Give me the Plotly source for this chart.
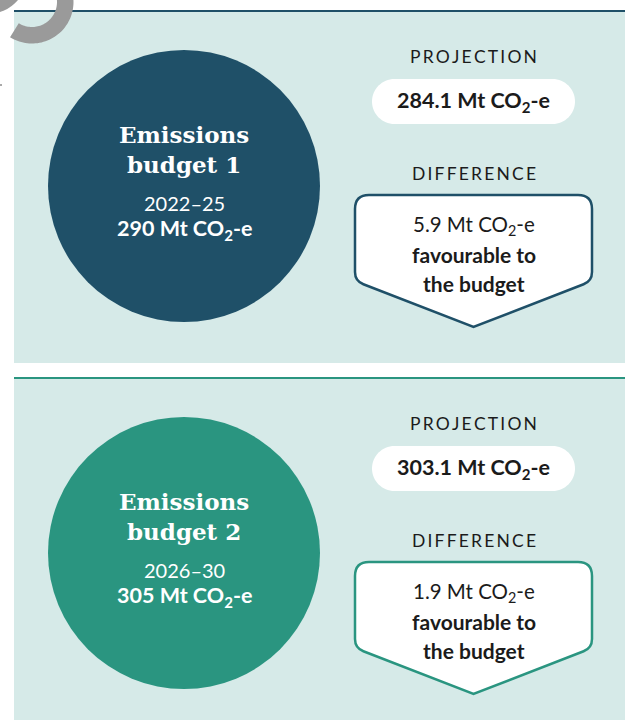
import numpy as np
import plotly.graph_objects as go

# ---------------- data ----------------
budget_numbers = [1, 2]
periods = ["2022–25", "2026–30"]
budget_values = [290, 305]          # Mt CO2-e
projections = [284.1, 303.1]        # Mt CO2-e
differences = [5.9, 1.9]            # Mt CO2-e
difference_notes = ["favourable to", "the budget"]
section_labels = ["PROJECTION", "DIFFERENCE"]

# ---------------- styles ----------------
W, H = 625, 720
accent = ["#1f5068", "#2a9580"]
panel_bg = "#d6eae8"
ink = "#1b1b1b"
sans = "Lato, 'Open Sans', sans-serif"
serif = "'DejaVu Serif', serif"
offset = 367
THIN = "\u2009"


def spaced(s):
    return THIN.join(list(s))


def co2(v, fmt):
    return f"{v:{fmt}} Mt CO<sub>2</sub>-e"


def rounded_box_path(x0, y0, x1, y1, r):
    k = 0.5523 * r
    return (f"M {x0+r},{y0} L {x1-r},{y0} C {x1-r+k},{y0} {x1},{y0+r-k} {x1},{y0+r} "
            f"L {x1},{y1-r} C {x1},{y1-r+k} {x1-r+k},{y1} {x1-r},{y1} "
            f"L {x0+r},{y1} C {x0+r-k},{y1} {x0},{y1-r+k} {x0},{y1-r} "
            f"L {x0},{y0+r} C {x0},{y0+r-k} {x0+r-k},{y0} {x0+r},{y0} Z")


def callout_path(L, R, T, S, px, py, rt, rb):
    dx, dy = px - R, py - S
    n = np.hypot(dx, dy)
    ux, uy = dx / n, dy / n
    return (f"M {L},{T+rt} Q {L},{T} {L+rt},{T} L {R-rt},{T} Q {R},{T} {R},{T+rt} "
            f"L {R},{S-rb} Q {R},{S} {R+ux*rb},{S+uy*rb} L {px},{py} "
            f"L {L-ux*rb},{S+uy*rb} Q {L},{S} {L},{S-rb} Z")


fig = go.Figure()
shapes = []
annotations = []

for i in range(len(budget_numbers)):
    o = i * offset
    col = accent[i]
    # panel background and top rule
    shapes.append(dict(type="rect", x0=14, x1=W, y0=12 + o, y1=363 + o,
                       fillcolor=panel_bg, line=dict(width=0), layer="below"))
    shapes.append(dict(type="line", x0=14, x1=W, y0=11 + o, y1=11 + o,
                       line=dict(color=col, width=2)))
    # budget circle
    shapes.append(dict(type="circle", x0=48, x1=320, y0=50 + o, y1=322 + o,
                       fillcolor=col, line=dict(width=0)))
    # projection pill
    shapes.append(dict(type="path", path=rounded_box_path(372, 79 + o, 575, 124 + o, 22.5),
                       fillcolor="white", line=dict(width=0)))
    # difference callout
    shapes.append(dict(type="path",
                       path=callout_path(355, 592, 195 + o, 281 + o, 473.5, 327 + o, 14, 9),
                       fillcolor="white", line=dict(color=col, width=2.5)))

    # circle text
    annotations += [
        dict(x=184, y=134 + o, text="<b>Emissions</b>", font=dict(family=serif, size=23, color="white")),
        dict(x=184, y=164 + o, text=f"<b>budget {budget_numbers[i]}</b>",
             font=dict(family=serif, size=23, color="white")),
        dict(x=184, y=203 + o, text=periods[i], font=dict(family=sans, size=20, color="white")),
        dict(x=184, y=229 + o, text="<b>" + co2(budget_values[i], "d") + "</b>",
             font=dict(family=sans, size=21.5, color="white")),
    ]
    # right column text
    annotations += [
        dict(x=473.5, y=56 + o, text=spaced(section_labels[0]), font=dict(family=sans, size=17.5, color=ink)),
        dict(x=473.5, y=101 + o, text="<b>" + co2(projections[i], ".1f") + "</b>",
             font=dict(family=sans, size=21.5, color=ink)),
        dict(x=473.5, y=173 + o, text=spaced(section_labels[1]), font=dict(family=sans, size=17.5, color=ink)),
        dict(x=473.5, y=225 + o, text=co2(differences[i], ".1f"), font=dict(family=sans, size=20.5, color=ink)),
        dict(x=473.5, y=254 + o, text="<b>" + difference_notes[0] + "</b>", font=dict(family=sans, size=21, color=ink)),
        dict(x=473.5, y=283 + o, text="<b>" + difference_notes[1] + "</b>", font=dict(family=sans, size=21, color=ink)),
    ]

# decorative grey arc fragment at top-left
cx, cy, r_in, r_out = 32, 2, 25, 41.5
a = np.radians(np.linspace(122, -45, 60))
outer = [(cx + r_out * np.cos(t), cy + r_out * np.sin(t)) for t in a]
inner = [(cx + r_in * np.cos(t), cy + r_in * np.sin(t)) for t in a[::-1]]
pts = outer + inner
arc_path = "M " + " L ".join(f"{x:.2f},{y:.2f}" for x, y in pts) + " Z"
shapes.append(dict(type="path", path=arc_path, fillcolor="#9a9a9a", line=dict(width=0)))
shapes.append(dict(type="path", path="M 0,0 L 18,0 Q 12,7 4,10.5 L 0,12 Z",
                   fillcolor="#9a9a9a", line=dict(width=0)))
shapes.append(dict(type="line", x0=0, x1=2, y0=85, y1=85, line=dict(color="#555", width=1)))

for an in annotations:
    an.update(xref="x", yref="y", showarrow=False, xanchor="center", yanchor="middle")

fig.update_layout(
    width=W, height=H, margin=dict(l=0, r=0, t=0, b=0),
    paper_bgcolor="white", plot_bgcolor="white",
    xaxis=dict(range=[0, W], visible=False, fixedrange=True),
    yaxis=dict(range=[H, 0], visible=False, fixedrange=True),
    shapes=shapes, annotations=annotations, showlegend=False,
)

fig.write_html("out.html", config={"displayModeBar": False},
               post_script="document.body.style.margin='0';")
